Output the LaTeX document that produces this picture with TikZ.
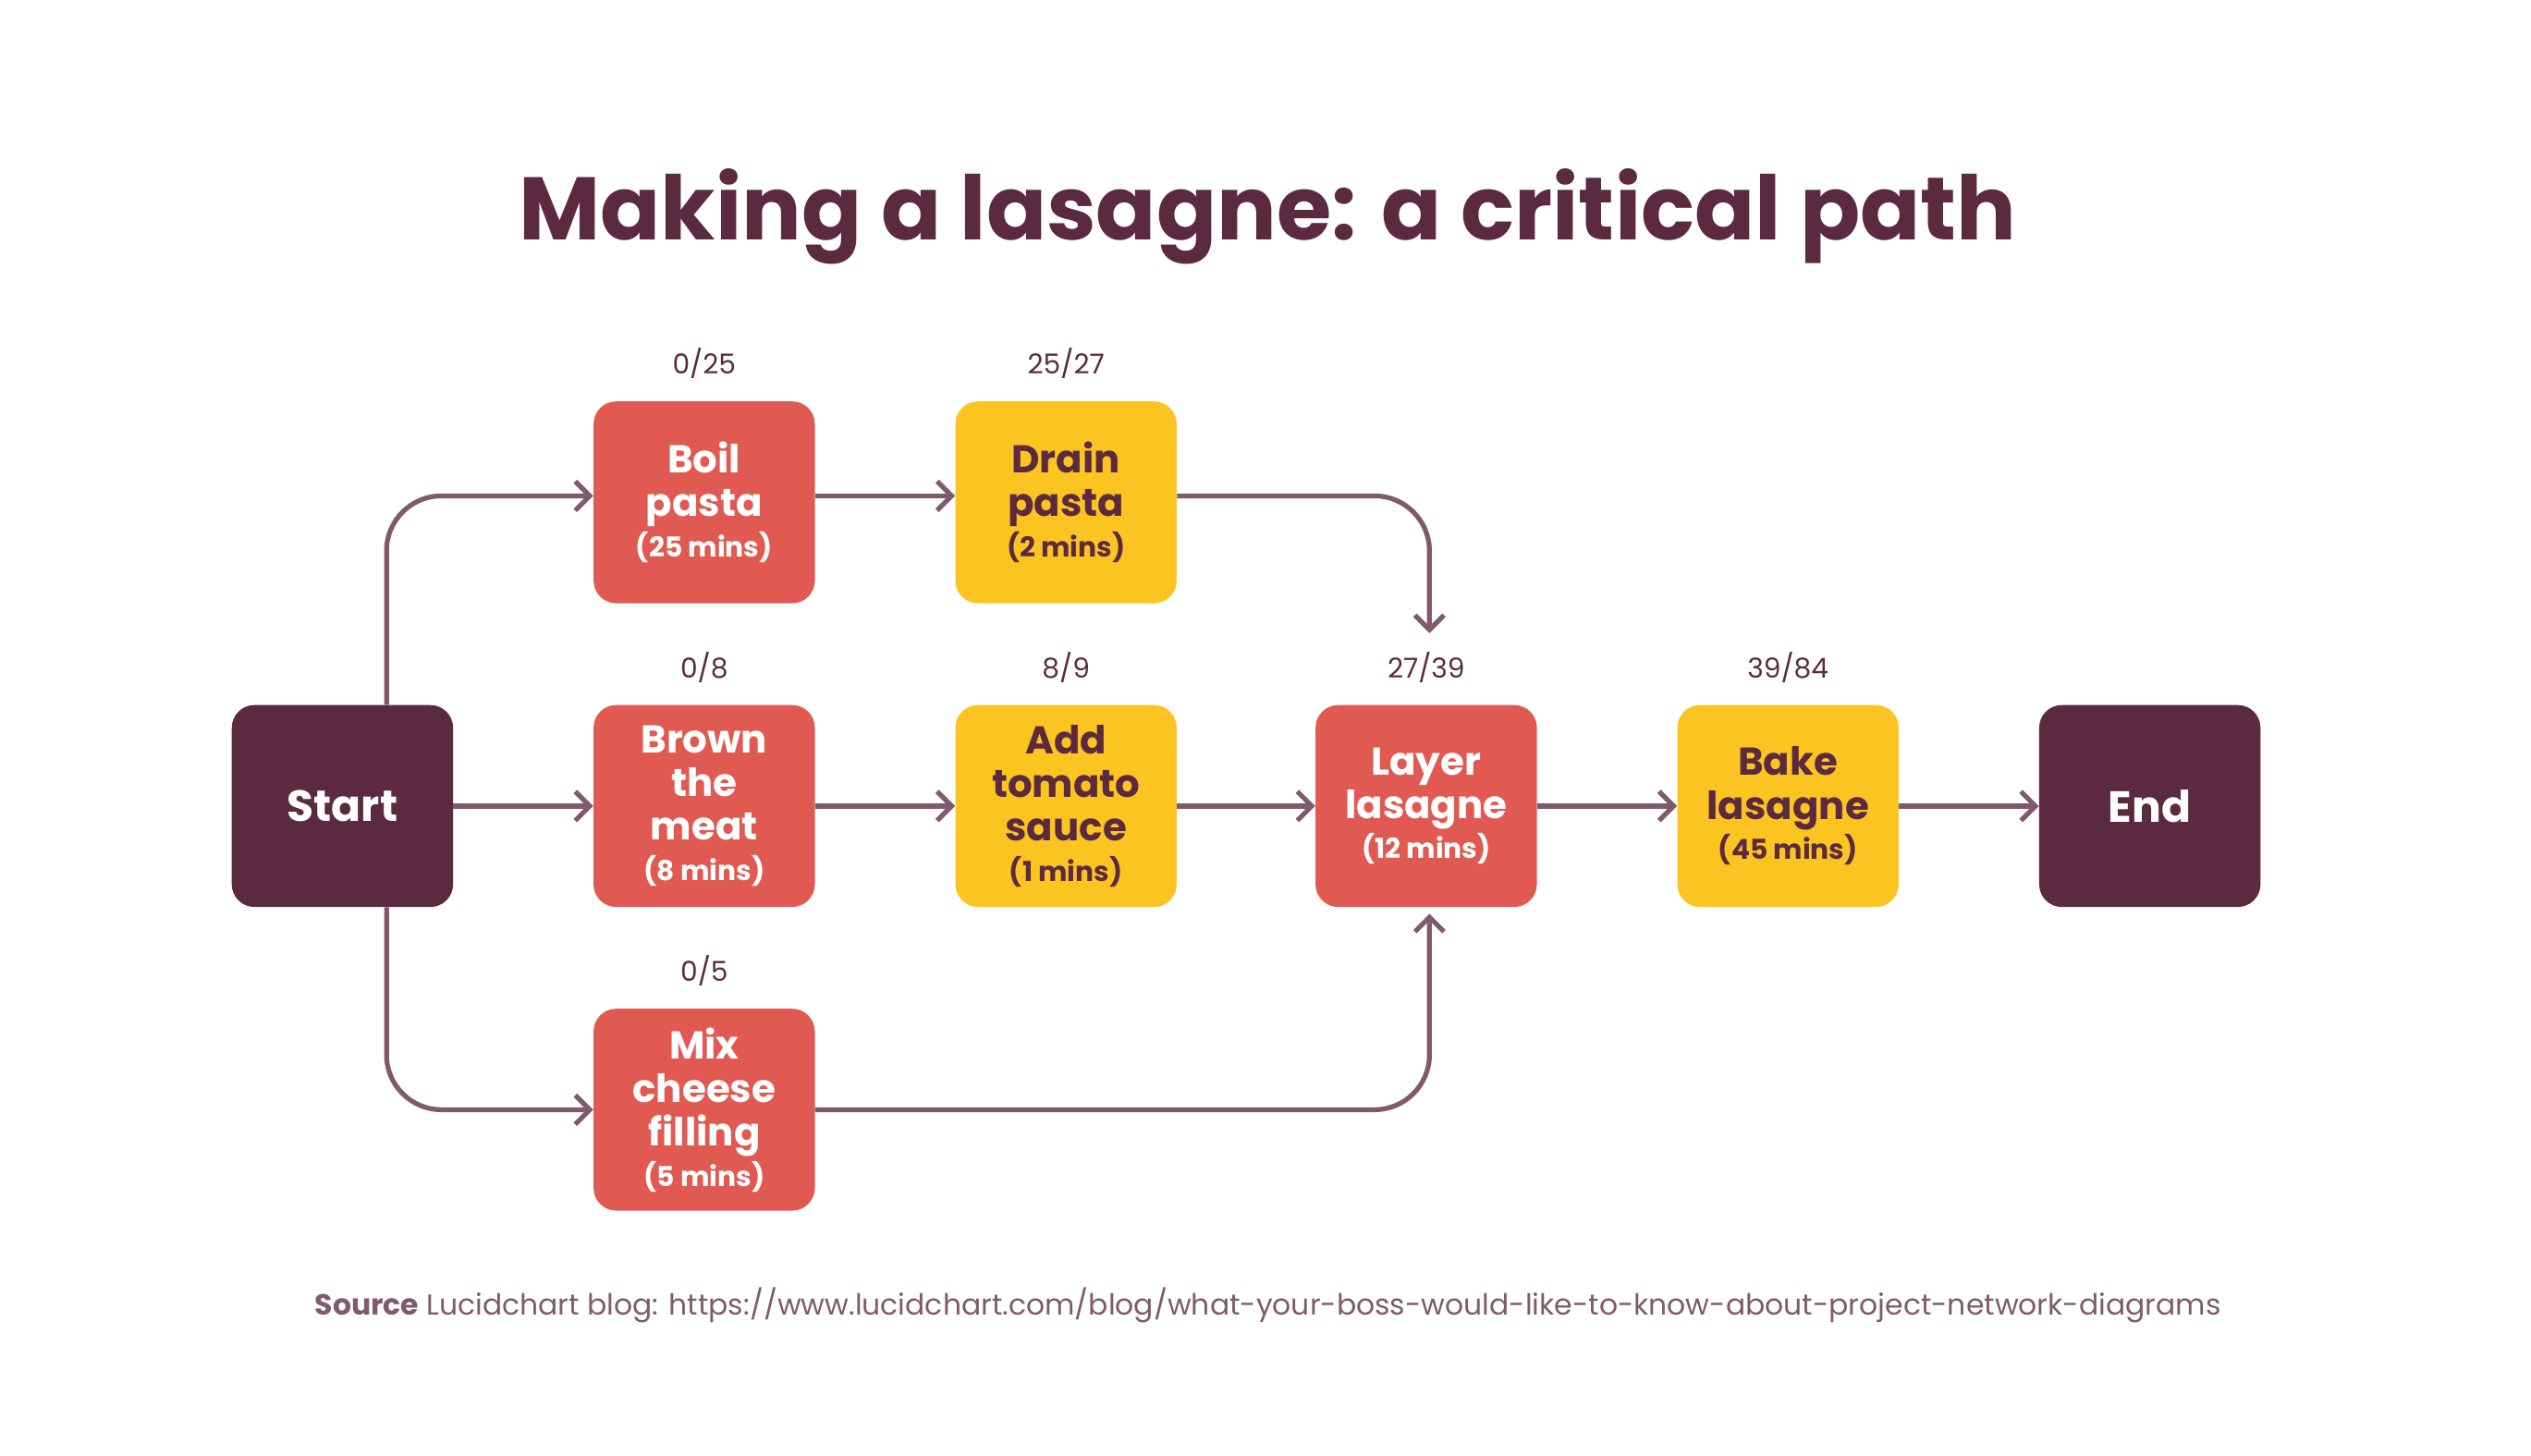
\documentclass[tikz,border=0pt]{standalone}
\usepackage{fontspec}
\setmainfont{Poppins}
\usetikzlibrary{arrows.meta}
\definecolor{maroon}{HTML}{5C2A3E}
\definecolor{redb}{HTML}{E05A52}
\definecolor{yel}{HTML}{FCC421}
\definecolor{arr}{HTML}{7F5A6C}
\newcommand{\mysm}{\fontsize{17}{20}\selectfont}
\begin{document}
\begin{tikzpicture}[x=1pt,y=-1pt,
  box/.style={rounded corners=14pt,minimum width=137pt,minimum height=125pt,align=center,inner sep=0pt,font=\fontsize{24}{27}\selectfont\bfseries},
  red/.style={box,fill=redb,text=white},
  yl/.style={box,fill=yel,text=maroon},
  dk/.style={box,fill=maroon,text=white,font=\fontsize{27}{30}\selectfont\bfseries},
  lab/.style={text=maroon,font=\fontsize{17}{20}\selectfont},
  con/.style={draw=arr,line width=3pt,rounded corners=34pt,-{Straight Barb[length=9pt,width=18pt,line width=3pt]}}]
\useasboundingbox (0,0) rectangle (1567,901);
\node[text=maroon,font=\fontsize{55}{58}\selectfont\bfseries] (title) at (785,134) {Making a lasagne: a critical path};
\node[dk] (start) at (212,499) {Start};
\node[red] (boil) at (436,311) {Boil\\pasta\\[-2pt]{\mysm(25 mins)}};
\node[yl] (drain) at (660,311) {Drain\\pasta\\[-2pt]{\mysm(2 mins)}};
\node[red] (brown) at (436,499) {Brown\\the\\meat\\[-2pt]{\mysm(8 mins)}};
\node[yl] (tomato) at (660,499) {Add\\tomato\\sauce\\[-2pt]{\mysm(1 mins)}};
\node[red] (layer) at (883,499) {Layer\\lasagne\\[-2pt]{\mysm(12 mins)}};
\node[yl] (bake) at (1107,499) {Bake\\lasagne\\[-2pt]{\mysm(45 mins)}};
\node[dk] (end) at (1331,499) {End};
\node[red] (mix) at (436,687) {Mix\\cheese\\filling\\[-2pt]{\mysm(5 mins)}};
\node[lab] (l1) at (436,225) {0/25};
\node[lab] (l2) at (660,225) {25/27};
\node[lab] (l3) at (436,413) {0/8};
\node[lab] (l4) at (660,413) {8/9};
\node[lab] (l5) at (883,413) {27/39};
\node[lab] (l6) at (1107,413) {39/84};
\node[lab] (l7) at (436,601) {0/5};
\coordinate (dtop) at (885,392);
\draw[con] ([xshift=96pt]start.north west) |- ([yshift=4pt]boil.west);
\draw[con] ([xshift=96pt]start.south west) |- (mix.west);
\draw[con] (start) -- (brown);
\draw[con] ([yshift=4pt]boil.east) -- ([yshift=4pt]drain.west);
\draw[con] (brown) -- (tomato);
\draw[con] (tomato) -- (layer);
\draw[con] (layer) -- (bake);
\draw[con] (bake) -- (end);
\draw[con] ([yshift=4pt]drain.east) -| (dtop);
\draw[con] (mix.east) -| ([xshift=2pt,yshift=-4pt]layer.south);
\node[text=arr,font=\fontsize{18}{20}\selectfont] (src) at (785,808) {\textbf{Source} Lucidchart blog: https://www.lucidchart.com/blog/what-your-boss-would-like-to-know-about-project-network-diagrams};
\end{tikzpicture}
\end{document}
